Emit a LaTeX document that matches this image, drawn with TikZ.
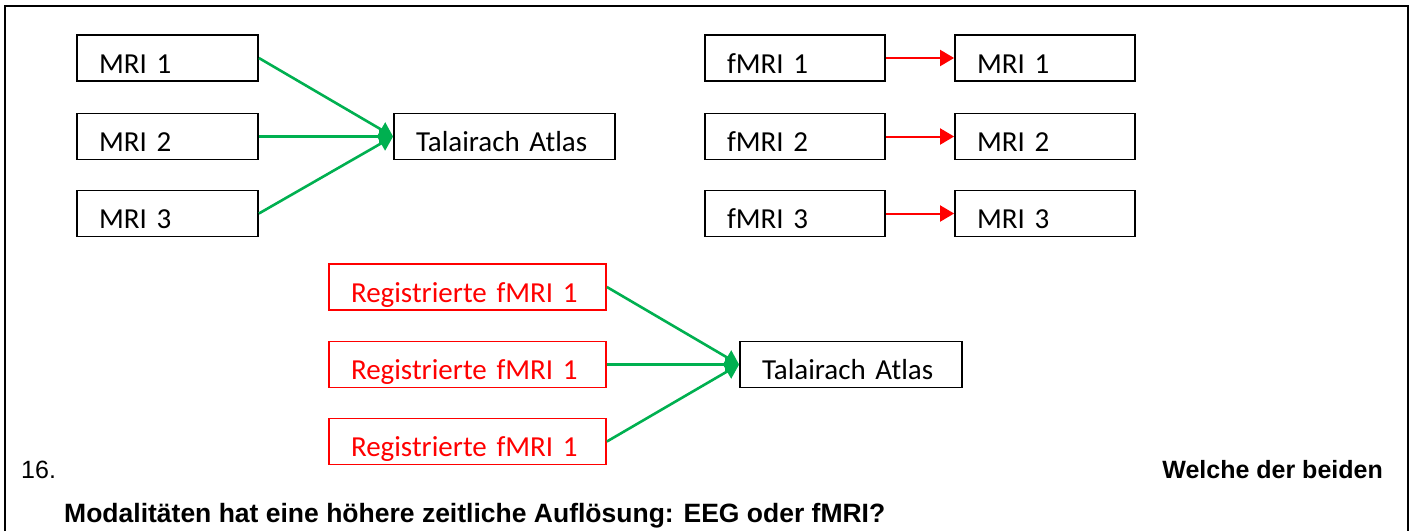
\documentclass[tikz,border=0pt]{standalone}
\usepackage{fontspec}
\setmainfont{Carlito}
\newfontfamily\arialfont{Liberation Sans}
\usepackage{tikz}
\usetikzlibrary{arrows.meta}
\tikzset{>={Triangle[width=16pt,length=14pt]}}
\definecolor{officegreen}{RGB}{0,176,80}
\tikzset{
  box/.style={draw, line width=1.8pt, rectangle, inner xsep=22pt, inner ysep=0pt,
    text height=38pt, text depth=8pt, align=left, text width=#1,
    font=\fontsize{29}{31}\selectfont},
  regbox/.style={box=#1, draw=red, text=red},
  greenarrow/.style={->, draw=officegreen, line width=2.6pt},
  redarrow/.style={->, draw=red, line width=2pt},
  question/.style={inner sep=0pt, font=\arialfont\fontsize{25}{28}\selectfont}
}

\begin{document}
\begin{tikzpicture}[x=1pt, y=-1pt]
      \useasboundingbox (0,0) rectangle (1414,531);
      \draw [line width=2pt] (5,531) -- (5,6) -- (1408,6) -- (1408,531);

      \node[box=137pt] (mri1) at (167.5,58) {MRI 1};
      \node[box=137pt] (mri2) at (167.5,136.5) {MRI 2};
      \node[box=137pt] (mri3) at (167.5,213.5) {MRI 3};
      \node[box=177pt] (atlas) at (504.5,136.5) {Talairach Atlas};
      \draw [greenarrow] (mri1.east) -- (atlas.west);
      \draw [greenarrow] (mri2.east) -- (atlas.west);
      \draw [greenarrow] (mri3.east) -- (atlas.west);

      \foreach \i/\y in {1/58, 2/136.5, 3/213.5} {
        \node[box=136pt] (fmri\i) at (795,\y) {fMRI \i};
        \node[box=136pt] (reg\i) at (1045,\y) {MRI \i};
        \draw [redarrow] (fmri\i.east) -- (reg\i.west);
      }

      \node[regbox=233pt] (regfmria) at (467.5,287) {Registrierte fMRI 1};
      \node[regbox=233pt] (regfmrib) at (467.5,364.5) {Registrierte fMRI 1};
      \node[regbox=233pt] (regfmric) at (467.5,441.5) {Registrierte fMRI 1};
      \node[box=178pt] (atlasreg) at (851,364.5) {Talairach Atlas};
      \draw [greenarrow] (regfmria.east) -- (atlasreg.west);
      \draw [greenarrow] (regfmrib.east) -- (atlasreg.west);
      \draw [greenarrow] (regfmric.east) -- (atlasreg.west);

      \node[question, anchor=base west] (qnum) at (21,478) {16.};
      \node[question, anchor=base east, font=\arialfont\bfseries\fontsize{25}{28}\selectfont] (qline1) at (1383,478) {Welche der beiden};
      \node[question, anchor=base west, font=\arialfont\bfseries\fontsize{26.5}{28}\selectfont] (qline2) at (64,522) {Modalitäten hat eine höhere zeitliche Auflösung: EEG oder fMRI?};
    \end{tikzpicture}
\end{document}
